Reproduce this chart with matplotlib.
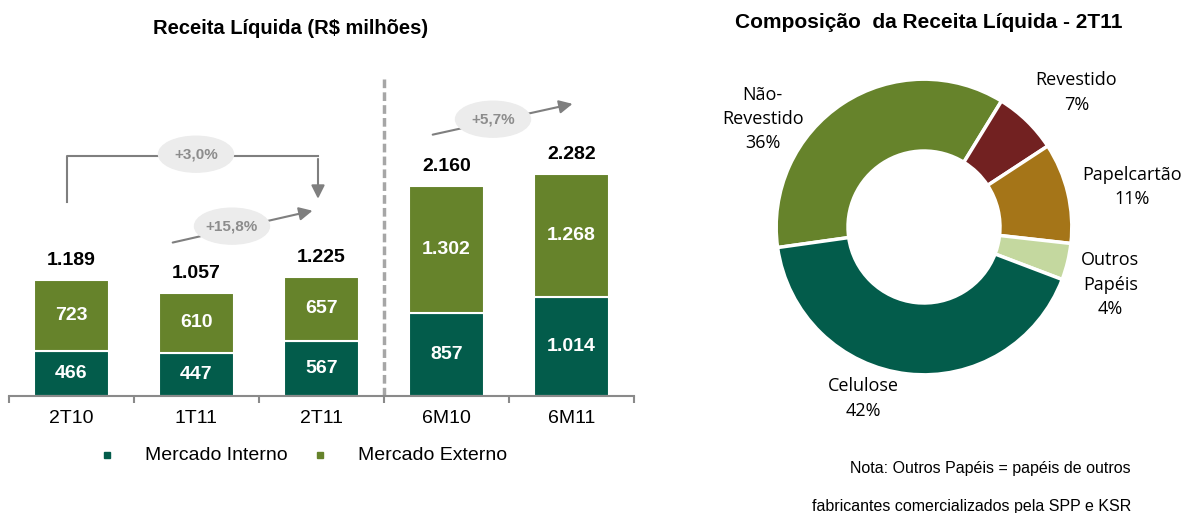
import matplotlib.pyplot as plt
from matplotlib.patches import Ellipse
from matplotlib.lines import Line2D

plt.rcParams['font.family'] = ['Liberation Sans', 'DejaVu Sans']

# bar chart data (R$ milhoes)
periods = ['2T10', '1T11', '2T11', '6M10', '6M11']
interno = [466, 447, 567, 857, 1014]
externo = [723, 610, 657, 1302, 1268]
totals = ['1.189', '1.057', '1.225', '2.160', '2.282']
interno_lbl = ['466', '447', '567', '857', '1.014']
externo_lbl = ['723', '610', '657', '1.302', '1.268']

# donut data, 2T11
segments = ['Não-\nRevestido', 'Revestido', 'Papelcartão', 'Outros\nPapéis', 'Celulose']
shares = [36, 7, 11, 4, 42]

c_int = '#035c4b'
c_ext = '#66832b'
donut_colors = ['#66832b', '#722121', '#a57518', '#c4d89f', '#035c4b']
grey = '#8a8a8a'

W, H = 1190, 513


def fx(px):
    return px / W


def fy(py):
    return 1 - py / H


fig = plt.figure(figsize=(W / 100, H / 100), dpi=100)

# ---- left: stacked bars
ax = fig.add_axes([fx(9), fy(396), 625 / W, 350 / H])
x = range(len(periods))
ax.bar(x, interno, width=0.6, color=c_int, edgecolor='white', linewidth=1.5)
ax.bar(x, externo, width=0.6, bottom=interno, color=c_ext, edgecolor='white', linewidth=1.5)
ax.set_xlim(-0.5, 4.5)
ax.set_ylim(0, 3600)

for i in x:
    ax.text(i, interno[i] / 2, interno_lbl[i], ha='center', va='center',
            color='white', fontsize=14, fontweight='bold')
    ax.text(i, interno[i] + externo[i] / 2, externo_lbl[i], ha='center', va='center',
            color='white', fontsize=14, fontweight='bold')
    ax.annotate(totals[i], (i, interno[i] + externo[i]), xytext=(0, 11),
                textcoords='offset points', ha='center', va='baseline',
                fontsize=14, fontweight='bold')

for s in ['top', 'right', 'left']:
    ax.spines[s].set_visible(False)
ax.spines['bottom'].set_color(grey)
ax.spines['bottom'].set_linewidth(1.5)
ax.set_yticks([])
ax.set_xticks(list(x))
ax.set_xticklabels(periods, fontsize=14)
ax.tick_params(axis='x', which='major', length=0, pad=10)
ax.set_xticks([i - 0.5 for i in range(6)], minor=True)
ax.tick_params(axis='x', which='minor', length=5, width=1.5, color=grey)

# separator between quarters and semesters
ax.plot([2.5, 2.5], [0, 3268], color='#a6a6a6', lw=2.5, ls=(0, (2.5, 1.2)), zorder=1)

# growth arrows
arr = dict(arrowstyle='-|>', color='#7f7f7f', lw=1.5, mutation_scale=20)
ax.plot([-0.036, -0.036, 1.972], [1994, 2467, 2467], color='#7f7f7f', lw=1.5, zorder=3)
ax.annotate('', xy=(1.972, 2000), xytext=(1.972, 2467), arrowprops=arr, zorder=3)
ax.annotate('', xy=(1.95, 1912), xytext=(0.788, 1572), arrowprops=arr, zorder=3)
ax.annotate('', xy=(4.03, 3011), xytext=(2.868, 2682), arrowprops=arr, zorder=3)

for (cx, cy, txt) in [(0.996, 2487, '+3,0%'), (1.284, 1747, '+15,8%'), (3.372, 2847, '+5,7%')]:
    ax.add_patch(Ellipse((cx, cy), 0.6, 370, color='#ececec', zorder=4))
    ax.text(cx, cy, txt, ha='center', va='center', fontsize=11,
            fontweight='bold', color='#8c8c8c', zorder=5)

fig.text(fx(291), fy(28), 'Receita Líquida (R$ milhões)', ha='center', va='center',
         fontsize=14.5, fontweight='bold')

# legend
for mx, tx, col, lbl in [(107, 145, c_int, 'Mercado Interno'), (320, 358, c_ext, 'Mercado Externo')]:
    fig.add_artist(Line2D([fx(mx)], [fy(455)], marker='s', markersize=5, color=col,
                          transform=fig.transFigure))
    fig.text(fx(tx), fy(455), lbl, ha='left', va='center', fontsize=14)

# ---- right: donut
dax = fig.add_axes([fx(924 - 170), fy(227 + 170), 340 / W, 340 / H])
dax.pie(shares, colors=donut_colors, startangle=188, counterclock=False, radius=1,
        wedgeprops=dict(width=0.486, edgecolor='white', linewidth=2.5))
dax.set_xlim(-1.15, 1.15)
dax.set_ylim(-1.15, 1.15)
dax.set_aspect('equal')
dax.axis('off')

lbl_pos = [(-1.09, 0.73), (1.03, 0.91), (1.41, 0.27), (1.26, -0.39), (-0.41, -1.16)]
for name, pct, (lx, ly) in zip(segments, shares, lbl_pos):
    dax.text(lx, ly, f'{name}\n{pct}%', ha='center', va='center', fontsize=13,
             family=['Open Sans', 'DejaVu Sans'], linespacing=1.45)

fig.text(fx(929), fy(23), 'Composição  da Receita Líquida - 2T11', ha='center', va='center',
         fontsize=15, fontweight='bold')
fig.text(fx(1131), fy(468), 'Nota: Outros Papéis = papéis de outros', ha='right', va='center',
         fontsize=11.5)
fig.text(fx(1131), fy(506), 'fabricantes comercializados pela SPP e KSR', ha='right', va='center',
         fontsize=11.5)

fig.savefig('out.png', dpi=100)
